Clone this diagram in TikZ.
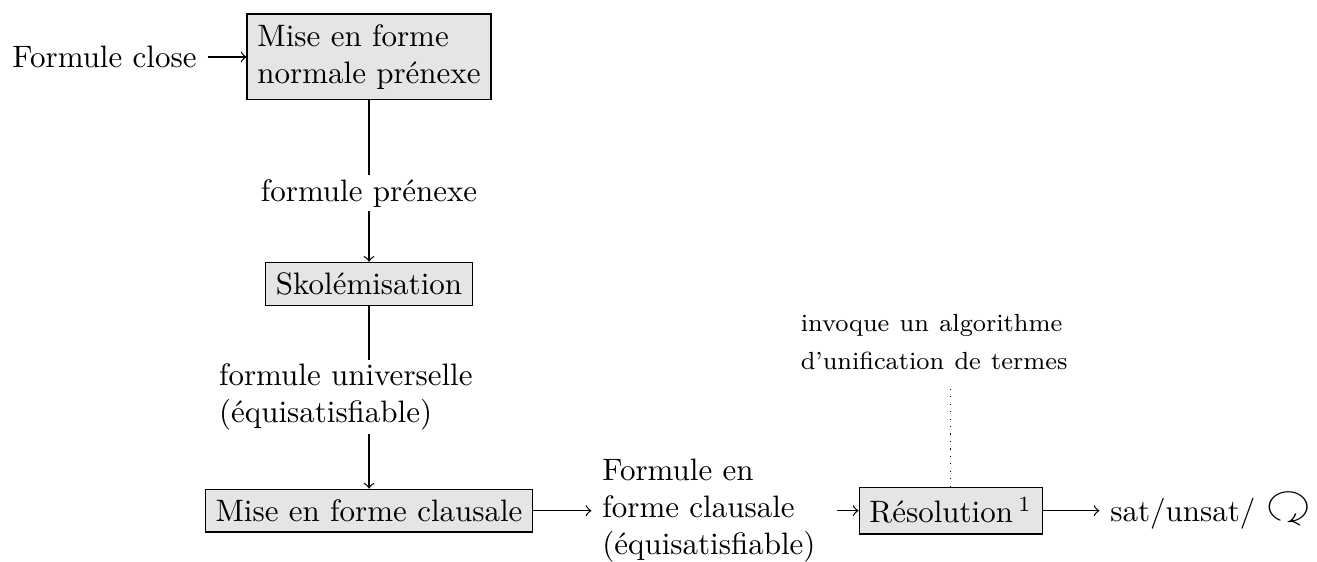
\documentclass[tikz,border=0pt]{standalone}
\usepackage{amssymb}
\usepackage{graphicx}
\usepackage{tikz}
\usetikzlibrary{positioning}

\newcommand{\boucle}{\raisebox{0.8pt}{\scalebox{1.9}[1.5]{\rotatebox[origin=c]{180}{$\circlearrowright$}}}}

\begin{document}
\begin{tikzpicture}[
  every node/.style={font=\normalsize},
  etape/.style={rectangle, draw, fill=gray!20, inner sep=3.33pt},
  etiq/.style={inner sep=1pt, text width=3.4cm, align=left},
  fleche/.style={->},
]
  \useasboundingbox (0,0) rectangle (14.932,-6.372);

  % Etapes
  \node (close) at (1.185, -0.646) {Formule close};
  \node[etape, align=left] (mef1) at (4.184, -0.646) {Mise en forme\\normale prénexe};
  \node[inner sep=1pt] (pren) at (4.184, -2.19) {formule prénexe};
  \node[etape] (skol) at (4.184, -3.22) {Skolémisation};
  \node[etiq] (univ) at (4.184, -4.499) {formule universelle\\(équisatisfiable)};
  \node[etape] (clau) at (4.184, -5.79) {Mise en forme clausale};
  \node[text width=2.54cm, align=left] (fcl) at (8.10, -5.79) {Formule en\\forme clausale\\(équisatisfiable)};
  \node[etape] (res) at (10.78, -5.79) {Résolution\,$^{1}$};
  \node[etiq, inner ysep=4.5pt] (inv) at (10.78, -3.878) {{\footnotesize invoque un algorithme}\\{\footnotesize d'unification de termes}};
  \node (sat) at (13.73, -5.79) {sat/unsat/ \boucle};

  % Liens
  \draw[fleche] (close) -- (mef1);
  \draw (mef1) -- (pren);
  \draw[fleche] (pren) -- (skol);
  \draw (skol) -- (univ);
  \draw[fleche] (univ) -- (clau);
  \draw[fleche] (clau) -- (fcl);
  \draw[fleche] (fcl) -- (res);
  \draw[dotted] (res) -- (inv);
  \draw[fleche] (res) -- (sat);
\end{tikzpicture}
\end{document}
